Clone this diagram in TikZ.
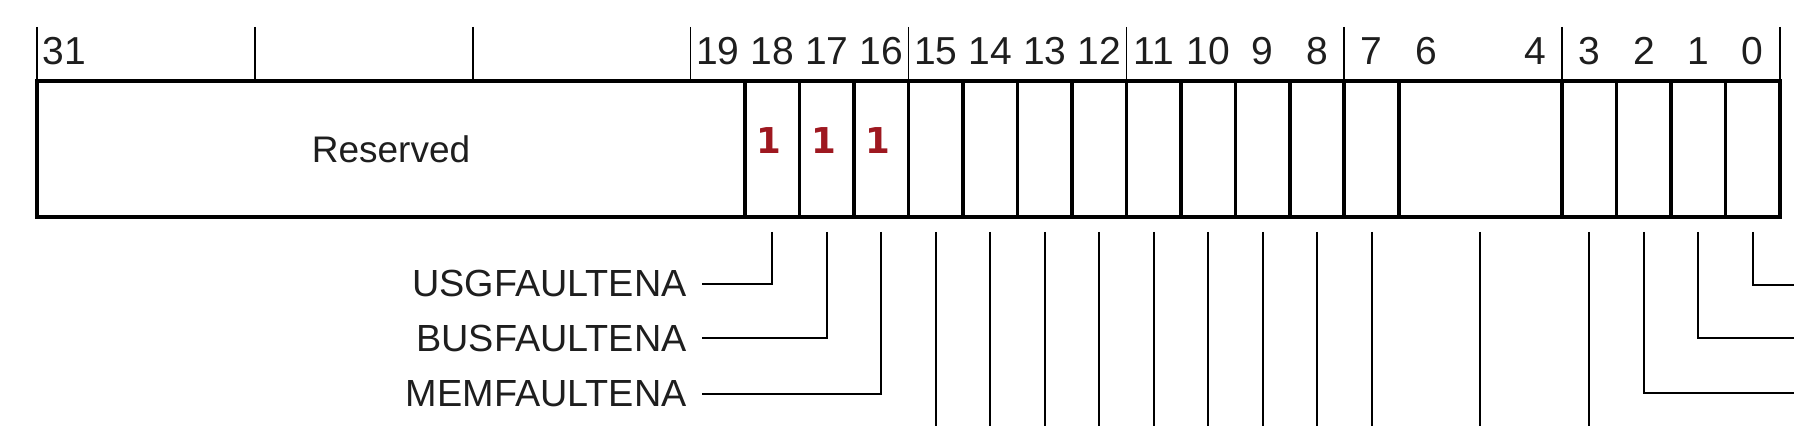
\documentclass[tikz,border=0pt]{standalone}
\usepackage{fontspec}
\setmainfont{Liberation Sans}
\newfontfamily\onefont{DejaVu Sans}
\definecolor{setred}{RGB}{158,24,32}
\definecolor{ink}{RGB}{30,30,30}

\begin{document}
\begin{tikzpicture}[x=0.5pt,y=-0.5pt]

      \useasboundingbox (0,0) rectangle (1794,426);
      \coordinate (bot) at (0,430);

      \begin{scope}[every node/.style={inner sep=0pt,text=ink,font=\fontsize{19.5}{20}\selectfont}]
        \foreach \b in {31,19,18,17,16,15,14,13,12,11,10,9,8,7,6,4,3,2,1,0}
          \node (n\b) at ({37+(31.5-\b)*54.47},51) {\b};
      \end{scope}

      \foreach \k in {0,...,8}
        \draw[line width=0.85pt] ({37+\k*217.88},27) -- ++(0,54);

      \begin{scope}[every node/.style={draw,line width=1.8pt,inner sep=0pt,minimum height=68pt,minimum width=27.235pt}]
        \node[minimum width=354.06pt,text=ink,font=\fontsize{18.5}{20}\selectfont] (res) at (391.05,149) {Reserved};
        \foreach \b in {18,17,16,15,14,13,12,11,10,9,8,7,3,2,1,0}
          \node (b\b) at ({37+(31.5-\b)*54.47},149) {};
        \node[minimum width=81.7pt] (b64) at ({37+26.5*54.47},149) {};
      \end{scope}

      \begin{scope}[every node/.style={inner sep=0pt,text=setred,font=\onefont\bfseries\fontsize{17.8}{18}\selectfont}]
        \foreach \b in {18,17,16}
          \node (v\b) at ([xshift=-1.5pt,yshift=4pt]b\b.center) {1};
      \end{scope}

      \begin{scope}[every node/.style={inner sep=0pt,anchor=base east,text=ink,font=\fontsize{18.9}{20}\selectfont}]
        \node (usg) at (687,297) {USGFAULTENA};
        \node (bus) at (687,351.5) {BUSFAULTENA};
        \node (mem) at (687,406.5) {MEMFAULTENA};
      \end{scope}

      \coordinate (r0) at (1794,285);
      \coordinate (r1) at (1794,338);
      \coordinate (r2) at (1794,393);

      \begin{scope}[line width=1pt]
        \draw ([yshift=-6.5pt]b18.south) |- ([xshift=7.5pt]usg.east);
        \draw ([yshift=-6.5pt]b17.south) |- ([xshift=7.5pt]bus.east);
        \draw ([yshift=-6.5pt]b16.south) |- ([xshift=7.5pt]mem.east);
        \foreach \b in {15,14,13,12,11,10,9,8,7,64,3}
          \draw ([yshift=-6.5pt]b\b.south) -- (b\b.south |- bot);
        \draw ([yshift=-6.5pt]b0.south) |- (r0);
        \draw ([yshift=-6.5pt]b1.south) |- (r1);
        \draw ([yshift=-6.5pt]b2.south) |- (r2);
      \end{scope}

    \end{tikzpicture}
\end{document}
